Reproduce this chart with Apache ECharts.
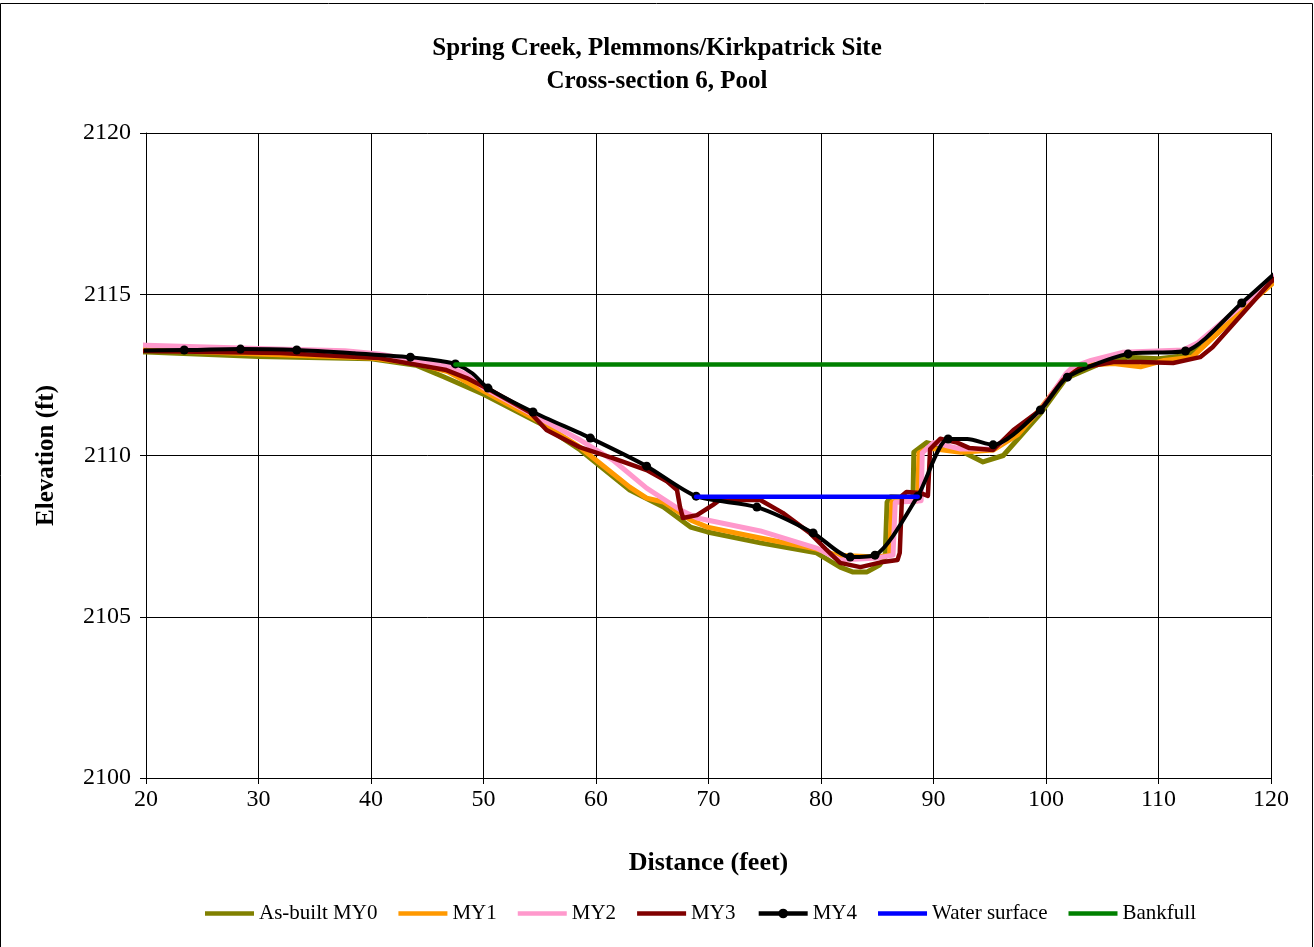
<!DOCTYPE html>
<html>
<head>
<meta charset="utf-8">
<script src="https://cdn.jsdelivr.net/npm/echarts@6/dist/echarts.min.js"></script>
<style>html,body{margin:0;padding:0;background:#fff;}#c{width:1314px;height:947px;}</style>
</head>
<body>
<div id="c"></div>
<script>
var titleLines = ['Spring Creek, Plemmons/Kirkpatrick Site', 'Cross-section 6, Pool'];
var xTitle = 'Distance (feet)';
var yTitle = 'Elevation (ft)';
var seriesNames = ['As-built MY0', 'MY1', 'MY2', 'MY3', 'MY4', 'Water surface', 'Bankfull'];

var my0 = [[18,2113.22],[20,2113.21],[30,2113.07],[40,2113.0],[44,2112.8],[46.4,2112.45],[50,2111.9],[55,2111.0],[58.6,2110.17],[63.0,2108.93],[66.0,2108.4],[68.4,2107.78],[69.9,2107.63],[74.6,2107.29],[79.6,2106.98],[81.7,2106.54],[82.8,2106.39],[84.1,2106.39],[85.2,2106.6],[85.7,2106.85],[85.87,2108.55],[86.2,2108.72],[88.18,2108.7],[88.25,2110.1],[89.4,2110.4],[92.4,2110.15],[94.4,2109.8],[96.2,2110.0],[99.5,2111.3],[101.8,2112.4],[104.8,2112.85],[107.3,2113.05],[110,2113.0],[112.5,2113.1],[114,2113.4],[117.4,2114.5],[121,2115.7]];
var my1 = [[18,2113.3],[20,2113.28],[30,2113.15],[40,2113.02],[44,2112.85],[46.8,2112.6],[50,2112.0],[55,2111.05],[58.6,2110.25],[63.0,2109.02],[64.5,2108.68],[66.0,2108.56],[68.4,2108.0],[69.9,2107.78],[74.6,2107.44],[79.6,2107.1],[81.4,2106.91],[85.0,2106.85],[86.1,2106.91],[86.3,2108.56],[88.6,2108.6],[88.7,2110.08],[89.5,2110.23],[92.4,2110.1],[95.3,2110.17],[97.5,2110.65],[99.5,2111.45],[101.8,2112.5],[103.5,2112.8],[106,2112.85],[108.4,2112.75],[110.5,2112.95],[113,2113.05],[117.4,2114.5],[121,2115.6]];
var my2 = [[18,2113.45],[20,2113.42],[30,2113.32],[37.7,2113.25],[40.7,2113.15],[44,2112.95],[47,2112.75],[48.5,2112.5],[50,2112.1],[55,2111.15],[58.6,2110.48],[61.5,2109.86],[64.5,2108.99],[67.5,2108.31],[69.0,2108.06],[74.6,2107.66],[79.6,2107.13],[81.7,2106.76],[85.0,2106.82],[86.4,2106.91],[86.6,2108.55],[88.9,2108.6],[89.0,2110.08],[90,2110.4],[92.4,2110.2],[95.3,2110.2],[99.5,2111.4],[101.8,2112.55],[102.4,2112.75],[104,2112.95],[106.8,2113.2],[112.2,2113.27],[113.5,2113.5],[117.4,2114.65],[121,2115.75]];
var my3 = [[18,2113.25],[20,2113.24],[31.9,2113.18],[40.7,2113.02],[46.7,2112.65],[48.5,2112.4],[50.6,2112.03],[54.1,2111.35],[55.6,2110.79],[58.6,2110.25],[61.5,2109.92],[64.5,2109.55],[66.3,2109.2],[67.2,2108.93],[67.47,2108.4],[67.73,2108.06],[68.98,2108.15],[70.4,2108.47],[71.0,2108.62],[74.6,2108.62],[76.6,2108.22],[79.0,2107.6],[80.5,2107.07],[81.7,2106.67],[83.5,2106.54],[85.5,2106.7],[86.8,2106.76],[87.0,2106.98],[87.2,2108.75],[87.6,2108.87],[88.8,2108.84],[89.5,2108.75],[89.7,2110.2],[90.6,2110.52],[92.1,2110.4],[93.2,2110.23],[95.3,2110.17],[97.1,2110.79],[99.5,2111.41],[101.5,2112.34],[103,2112.71],[106,2112.9],[108.4,2112.9],[111.3,2112.87],[113.7,2113.05],[114.8,2113.36],[119.9,2115.35],[121,2115.7]];
var my4 = [[18.4,2113.25],[23.4,2113.27],[28.4,2113.3],[33.4,2113.27],[43.5,2113.05],[47.5,2112.84],[50.4,2112.09],[54.4,2111.35],[59.5,2110.54],[64.5,2109.67],[68.9,2108.74],[74.3,2108.4],[79.3,2107.6],[82.6,2106.85],[84.8,2106.91],[88.6,2108.74],[91.3,2110.51],[95.3,2110.33],[99.5,2111.41],[101.9,2112.43],[107.3,2113.15],[112.4,2113.24],[117.4,2114.73],[122.4,2116.3]];
var my4Unmarked = [[38.5,2113.17],[46.2,2112.93],[49.0,2112.55],[93.0,2110.51]];
var waterSurface = [[68.9,2108.72],[88.6,2108.72]];
var bankfull = [[47.5,2112.82],[103.5,2112.82]];

var xTicks = {min: 20, max: 120, interval: 10};
var yTicks = {min: 2100, max: 2120, interval: 5};

var colors = ['#808000', '#FF9900', '#FF99CC', '#800000', '#000000', '#0000FF', '#008000'];
var FONT = '"Liberation Serif", "Times New Roman", serif';

var my4Data = my4.map(function (p) { return {value: p}; })
  .concat(my4Unmarked.map(function (p) { return {value: p, symbol: 'none'}; }))
  .sort(function (a, b) { return a.value[0] - b.value[0]; });

function lineSeries(name, data, color, width, z) {
  return {
    name: name, type: 'line', data: data, showSymbol: false, symbol: 'none',
    lineStyle: {color: color, width: width, join: 'round', cap: 'round'},
    itemStyle: {color: color}, z: z, animation: false, clip: true
  };
}

var barIcon = 'path://M0,0L49,0L49,4.5L0,4.5Z';
var legendData = seriesNames.map(function (n) {
  return n === 'MY4' ? {name: n} : {name: n, icon: barIcon};
});

var chart = echarts.init(document.getElementById('c'), null, {renderer: 'canvas'});
chart.setOption({
  backgroundColor: '#ffffff',
  animation: false,
  graphic: [{
    type: 'rect', shape: {x: 0.5, y: 3.5, width: 1312, height: 960},
    style: {fill: 'none', stroke: '#000', lineWidth: 1}, z: -1
  }],
  title: {
    text: titleLines.join('\n'), left: 'center', top: 27,
    textStyle: {fontFamily: FONT, fontSize: 25, fontWeight: 'bold', color: '#000', lineHeight: 33}
  },
  legend: {
    data: legendData, top: 898, left: 200, itemWidth: 49, itemHeight: 12, itemGap: 21,
    symbolKeepAspect: true,
    lineStyle: {width: 4.5},
    textStyle: {fontFamily: FONT, fontSize: 21, color: '#000'}
  },
  grid: {left: 146, right: 43, top: 133, bottom: 169, containLabel: false, show: false},
  xAxis: {
    type: 'value', min: xTicks.min, max: xTicks.max, interval: xTicks.interval,
    name: xTitle, nameLocation: 'middle', nameGap: 72,
    nameTextStyle: {fontFamily: FONT, fontSize: 26, fontWeight: 'bold', color: '#000'},
    axisLine: {show: true, lineStyle: {color: '#000', width: 1}},
    axisTick: {show: true, length: 6, lineStyle: {color: '#000'}},
    axisLabel: {fontFamily: FONT, fontSize: 24, color: '#000', margin: 10,
      formatter: function (v) { return String(v); }},
    splitLine: {show: true, lineStyle: {color: '#000', width: 1}}
  },
  yAxis: {
    type: 'value', min: yTicks.min, max: yTicks.max, interval: yTicks.interval,
    name: yTitle, nameLocation: 'middle', nameGap: 87, nameRotate: 90,
    nameTextStyle: {fontFamily: FONT, fontSize: 25, fontWeight: 'bold', color: '#000'},
    axisLine: {show: true, lineStyle: {color: '#000', width: 1}},
    axisTick: {show: true, length: 6, lineStyle: {color: '#000'}},
    axisLabel: {fontFamily: FONT, fontSize: 24, color: '#000', margin: 15,
      formatter: function (v) { return String(v); }},
    splitLine: {show: true, lineStyle: {color: '#000', width: 1}}
  },
  series: [
    lineSeries(seriesNames[0], my0, colors[0], 5, 2),
    lineSeries(seriesNames[1], my1, colors[1], 5, 3),
    lineSeries(seriesNames[2], my2, colors[2], 5, 4),
    lineSeries(seriesNames[3], my3, colors[3], 4.5, 5),
    {
      name: seriesNames[4], type: 'line', data: my4Data, symbol: 'circle', symbolSize: 9, showSymbol: true,
      smooth: 0.25,
      lineStyle: {color: colors[4], width: 4, join: 'round'}, itemStyle: {color: colors[4]},
      z: 6, animation: false, clip: true
    },
    lineSeries(seriesNames[5], waterSurface, colors[5], 4.5, 7),
    lineSeries(seriesNames[6], bankfull, colors[6], 4.5, 8)
  ]
});
</script>
</body>
</html>
